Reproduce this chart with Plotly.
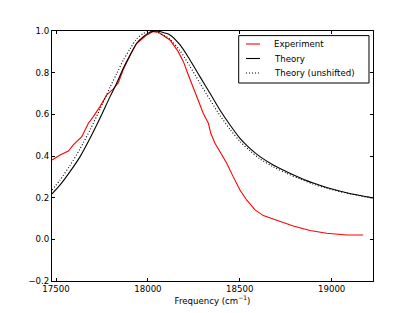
import plotly.graph_objects as go

# Experiment (red)
exp_x = [17478, 17522, 17567, 17594, 17640, 17676, 17703, 17739, 17776, 17812,
         17839, 17866, 17903, 17939, 17993, 18029, 18057, 18093, 18120, 18165,
         18193, 18220, 18247, 18274, 18301, 18329, 18342, 18365, 18401, 18429,
         18464, 18501, 18537, 18583, 18628, 18701, 18791, 18882, 18973, 19081,
         19172]
exp_y = [0.381, 0.405, 0.424, 0.453, 0.493, 0.557, 0.589, 0.637, 0.693, 0.722,
         0.752, 0.815, 0.882, 0.941, 0.981, 0.997, 0.994, 0.975, 0.957, 0.901,
         0.853, 0.789, 0.725, 0.661, 0.605, 0.557, 0.509, 0.461, 0.405, 0.365,
         0.301, 0.237, 0.189, 0.141, 0.114, 0.090, 0.064, 0.042, 0.029, 0.021,
         0.021]

# Theory (black solid) and Theory (unshifted, dotted) share the frequency grid
th_x = [17478, 17522, 17576, 17631, 17685, 17739, 17794, 17830, 17866, 17903,
        17939, 17975, 18011, 18048, 18093, 18120, 18175, 18229, 18283, 18338,
        18392, 18447, 18501, 18555, 18610, 18682, 18755, 18827, 18900, 18973,
        19081, 19225]
th_y = [0.218, 0.261, 0.325, 0.397, 0.485, 0.581, 0.685, 0.749, 0.821, 0.885,
        0.941, 0.973, 0.994, 1.000, 0.990, 0.981, 0.933, 0.861, 0.781, 0.701,
        0.621, 0.549, 0.485, 0.437, 0.397, 0.357, 0.325, 0.296, 0.270, 0.249,
        0.224, 0.199]
un_y = [0.237, 0.285, 0.355, 0.435, 0.525, 0.625, 0.730, 0.795, 0.860, 0.915,
        0.962, 0.988, 0.999, 0.995, 0.977, 0.960, 0.905, 0.830, 0.750, 0.670,
        0.595, 0.528, 0.470, 0.425, 0.386, 0.348, 0.317, 0.290, 0.265, 0.245,
        0.222, 0.197]

x_ticks = [17500, 18000, 18500, 19000]
y_ticks = [-0.2, 0.0, 0.2, 0.4, 0.6, 0.8, 1.0]
legend_names = ["Experiment", "Theory", "Theory (unshifted)"]
legend_colors = ["red", "black", "black"]
legend_dashes = ["solid", "solid", "1px,2px"]

FONT = "DejaVu Sans"
FS = 8.6

fig = go.Figure()
fig.add_trace(go.Scatter(x=exp_x, y=exp_y, mode="lines", name=legend_names[0],
                         line=dict(color=legend_colors[0], width=1.1)))
fig.add_trace(go.Scatter(x=th_x, y=th_y, mode="lines", name=legend_names[1],
                         line=dict(color=legend_colors[1], width=1.1, shape="spline",
                                   smoothing=0.8)))
fig.add_trace(go.Scatter(x=th_x, y=un_y, mode="lines", name=legend_names[2],
                         line=dict(color=legend_colors[2], width=1.1, dash=legend_dashes[2],
                                   shape="spline", smoothing=0.8)))

axis_common = dict(showgrid=False, zeroline=False, showline=True, linecolor="black",
                   linewidth=1, mirror="allticks", ticks="inside", ticklen=3,
                   tickcolor="black", automargin=False,
                   tickfont=dict(family=FONT, size=FS, color="black"))

fig.update_layout(
    width=415, height=313,
    margin=dict(l=52, r=42, t=31, b=32),
    paper_bgcolor="white", plot_bgcolor="white",
    font=dict(family=FONT, size=FS, color="black"),
    xaxis=dict(range=[17478, 19225], tickvals=x_ticks, tickformat="d",
               title=dict(text="Frequency (cm<sup>−1</sup>)", standoff=0,
                          font=dict(family=FONT, size=FS)),
               **axis_common),
    yaxis=dict(range=[-0.2, 1.0], tickvals=y_ticks, tickformat=".1f", **axis_common),
    showlegend=False,
)

# Legend box (drawn in the upper right of the axes, as in the reference)
fig.add_shape(type="rect", xref="paper", yref="paper", x0=0.5816, x1=0.9875,
              y0=0.792, y1=0.9816, line=dict(color="black", width=1),
              fillcolor="white", layer="above")
row_y = [0.948, 0.890, 0.832]
for name, col, dash, yy in zip(legend_names, legend_colors, legend_dashes, row_y):
    fig.add_shape(type="line", xref="paper", yref="paper", x0=0.6044, x1=0.648,
                  y0=yy, y1=yy, line=dict(color=col, width=1.1, dash=dash), layer="above")
    fig.add_annotation(xref="paper", yref="paper", x=0.6844, y=yy, text=name,
                       showarrow=False, xanchor="left", yanchor="middle",
                       font=dict(family=FONT, size=FS, color="black"))

fig.write_html("out.html", config={"displayModeBar": False},
               post_script="document.body.style.margin='0';document.body.style.overflow='hidden';")
